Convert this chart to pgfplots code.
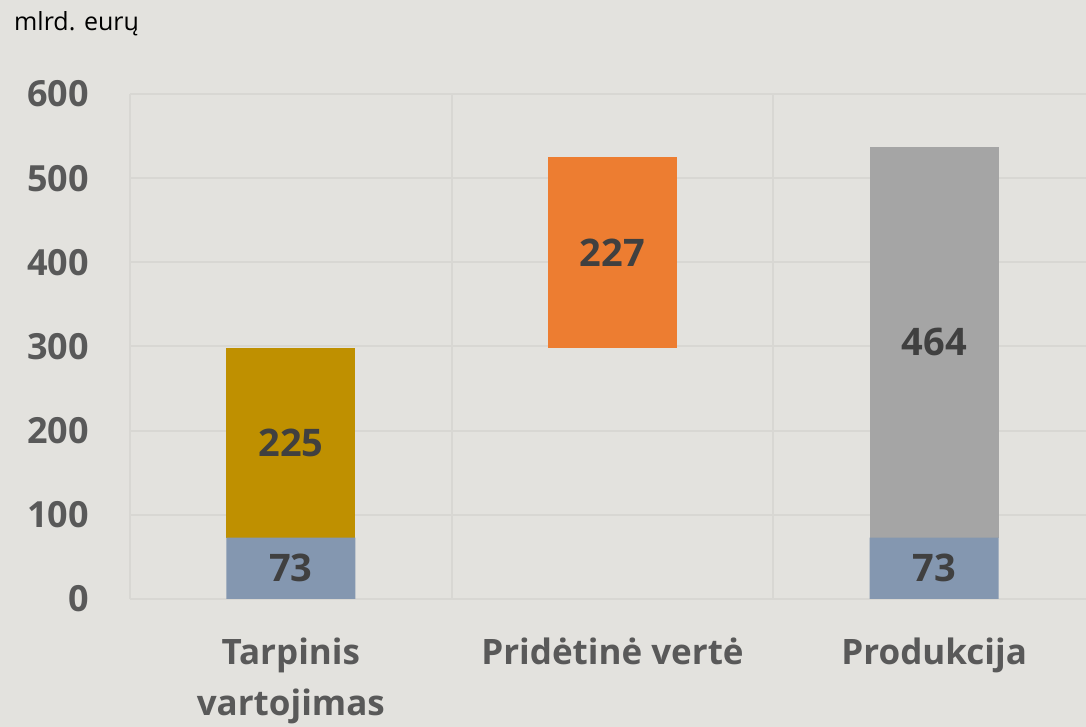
\documentclass[border=0pt]{standalone}
\usepackage{pgfplots}
\pgfplotsset{compat=1.18}
\usepackage{fontspec}
\setmainfont{Open Sans}
\definecolor{bg}{HTML}{E3E2DE}
\definecolor{gridc}{HTML}{D8D7D3}
\definecolor{cblue}{HTML}{8497B0}
\definecolor{cgold}{HTML}{BF9000}
\definecolor{corange}{HTML}{ED7D31}
\definecolor{cgrey}{HTML}{A5A5A5}
\definecolor{tickc}{HTML}{595959}
\definecolor{labc}{HTML}{404040}
\pgfplotsset{
  common/.style={
    at={(130bp,128bp)}, anchor=south west,
    scale only axis, width=965bp, height=505bp,
    xmin=-0.5, xmax=2.5, ymin=0, ymax=600,
    enlargelimits=false,
  }
}
\begin{document}
\begin{tikzpicture}[x=1bp,y=1bp]
\path[use as bounding box] (0,0) rectangle (1086,727);
\fill[bg] (0,0) rectangle (1086,727);
\clip (0,0) rectangle (1086,727);
\node[anchor=base west, font=\fontsize{25bp}{29bp}\selectfont, text=black, inner sep=0pt] at (14,696) {mlrd. eurų};
\begin{axis}[
  common,
  ybar stacked, bar width=129bp,
  xtick={0,1,2},
  xticklabels={{Tarpinis\\vartojimas},{Pridėtinė vertė},{Produkcija}},
  minor xtick={-0.5,0.5,1.5,2.5},
  xminorgrids, ymajorgrids,
  ytick={0,100,...,600},
  grid style={gridc, line width=2bp},
  minor grid style={gridc, line width=2bp},
  axis line style={draw=none},
  major tick length=0pt, minor tick length=0pt,
  tick style={draw=none},
  /pgf/number format/assume math mode=true,
  tick label style={font=\fontsize{36bp}{51bp}\selectfont\bfseries, text=tickc},
  xticklabel style={align=center, anchor=north, inner sep=0pt, yshift=-39bp, font=\fontsize{35bp}{51bp}\selectfont\bfseries},
  yticklabel style={anchor=east, inner sep=0pt, xshift=-41bp},
]
\addplot[fill=cblue, draw=none] coordinates {(0,73) (1,0) (2,73)};
\addplot[fill=cgold, draw=none] coordinates {(0,225) (1,0) (2,0)};
\addplot[fill=none, draw=none] coordinates {(0,0) (1,298) (2,0)};
\addplot[fill=corange, draw=none] coordinates {(0,0) (1,227) (2,0)};
\addplot[fill=cgrey, draw=none] coordinates {(0,0) (1,0) (2,464)};
\end{axis}
\begin{axis}[
  common, hide axis, clip=false,
]
\addplot[only marks, mark=none, point meta=explicit symbolic, nodes near coords,
  every node near coord/.style={font=\fontsize{38bp}{42bp}\selectfont\bfseries, text=labc, anchor=center, inner sep=0pt}]
  coordinates {(0,36.5) [73] (2,36.5) [73] (0,185.5) [225] (1,411.5) [227] (2,305) [464]};
\end{axis}
\end{tikzpicture}
\end{document}
